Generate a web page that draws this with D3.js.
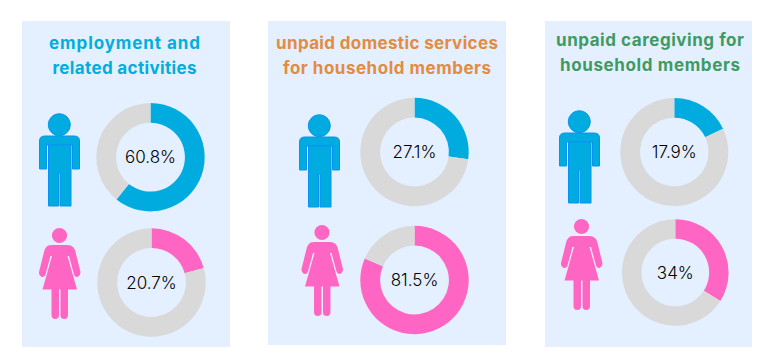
<!DOCTYPE html>
<html><head><meta charset="utf-8">
<script src="https://cdn.jsdelivr.net/npm/d3@7"></script>
<style>html,body{margin:0;padding:0;background:#fff}svg{display:block}
text{font-family:Inter,"Open Sans",sans-serif}</style></head>
<body><div id="c"></div>
<script>
const categories = ["employment and\nrelated activities","unpaid domestic services\nfor household members","unpaid caregiving for\nhousehold members"];
const maleValues = [60.8,27.1,17.9];
const femaleValues = [20.7,81.5,34];
const maleLabels = ["60.8%","27.1%","17.9%"];
const femaleLabels = ["20.7%","81.5%","34%"];
const titleColors = ["#00aede","#e38b3f","#3f9a62"];
const maleColor="#00acdf", femaleColor="#ff66c4", restColor="#d9d9d9", panelColor="#e4f0ff";

// layout
const panels=[{x:22,y:21,w:208,h:326,tx:124.5,ty:[49,74],tw:[151,144],
  m:{cx:150.5,cy:157.2,ix:39,iy:114,R:54.2},f:{cx:151.5,cy:282.5,ix:39,iy:228,R:54.2}},
 {x:268,y:21,w:238,h:324,tx:387,ty:[49,74],tw:[222,208],
  m:{cx:414.5,cy:152,ix:299,iy:115,R:54.2},f:{cx:414.5,cy:280,ix:301.5,iy:225,R:54.2}},
 {x:545,y:21,w:207,h:326,tx:650,ty:[46,71],tw:[188,180],
  m:{cx:674.3,cy:152,ix:559,iy:111,R:54},f:{cx:675.3,cy:272.5,ix:561,iy:219,R:53.3}}];
const innerRatio=0.635;

const svg=d3.select("#c").append("svg").attr("width",766).attr("height",358);
const pie=d3.pie().sort(null).value(d=>d);

function man(g){
  g.attr("fill",maleColor).attr("stroke","#0a92f0").attr("stroke-width",1);
  g.append("circle").attr("cx",20.3).attr("cy",10.7).attr("r",11);
  g.append("path").attr("d","M0.5,55 V27 Q0.5,22 6,22 H35 Q40.5,22 40.5,27 V55 H33.5 V31 H7.5 V55 Z");
  g.append("path").attr("d","M9.5,31 H32 V92 H21 V59 H19.5 V92 H9.5 Z");
}
function woman(g){
  g.attr("fill",femaleColor);
  g.append("circle").attr("cx",20.5).attr("cy",7.5).attr("r",7.6);
  g.append("path").attr("d","M9,17.5 Q10.5,17 13,17 H28 Q31,17 32.5,18 Q35,19 36,22 L41.5,44 Q41.8,47.5 38.8,49 Q36,49.3 35,46.5 L30,28 L28.5,28 L38,61.5 H3.5 L13,28 L11.5,28 L6.5,46.5 Q5.5,49.5 2.5,49 Q-0.3,47.5 0,44 L5.5,22 Q6.5,19 9,17.5 Z");
  g.append("path").attr("d","M12.5,61 H20 V87 Q20,91 16.2,91 Q12.5,91 12.5,87 Z");
  g.append("path").attr("d","M21.5,61 H29 V87 Q29,91 25.2,91 Q21.5,91 21.5,87 Z");
}
function donut(sp,v,label,color){
  const arc=d3.arc().innerRadius(sp.R*innerRatio).outerRadius(sp.R);
  const g=svg.append("g").attr("transform",`translate(${sp.cx},${sp.cy})`);
  g.selectAll("path").data(pie([v,100-v])).join("path").attr("d",arc)
    .attr("fill",(d,i)=>i===0?color:restColor);
  g.append("text").attr("text-anchor","middle").attr("y",6).attr("font-size",17)
    .attr("font-weight",300).attr("fill","#000").text(label);
}
panels.forEach((p,i)=>{
  svg.append("rect").attr("x",p.x).attr("y",p.y).attr("width",p.w).attr("height",p.h).attr("fill",panelColor);
  categories[i].split("\n").forEach((t,k)=>{
    svg.append("text").attr("x",p.tx).attr("y",p.ty[k]).attr("text-anchor","middle")
      .attr("font-size",17).attr("textLength",p.tw[k]).attr("lengthAdjust","spacing")
      .attr("font-weight",700).attr("fill",titleColors[i]).text(t);
  });
  man(svg.append("g").attr("transform",`translate(${p.m.ix},${p.m.iy})`));
  woman(svg.append("g").attr("transform",`translate(${p.f.ix},${p.f.iy})`));
  donut(p.m,maleValues[i],maleLabels[i],maleColor);
  donut(p.f,femaleValues[i],femaleLabels[i],femaleColor);
});
</script></body></html>
